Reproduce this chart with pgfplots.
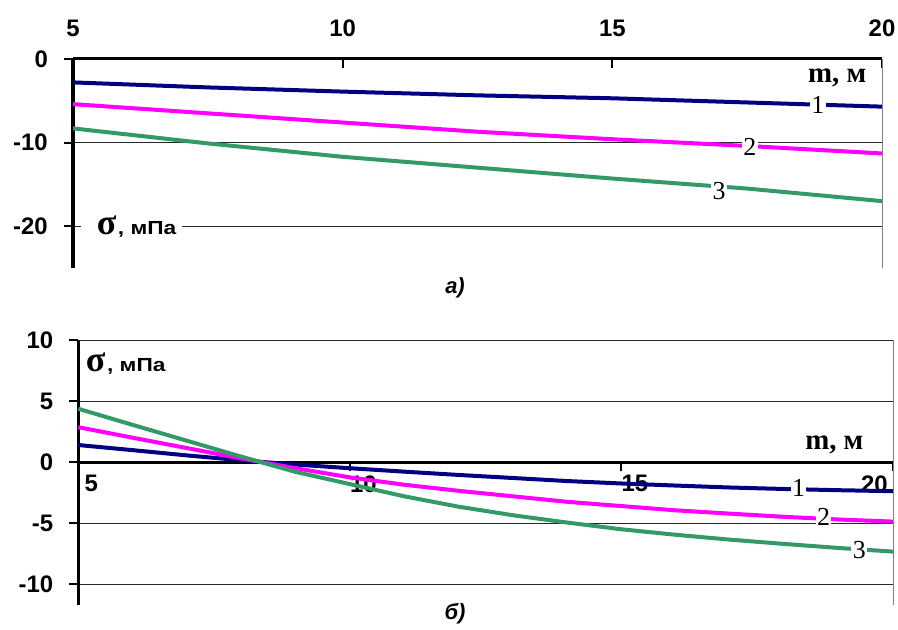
\documentclass[border=0pt]{standalone}
\usepackage{fontspec}
\setmainfont{Liberation Sans}
\newfontfamily\serif{Liberation Serif}
\usepackage{pgfplots}
\pgfplotsset{compat=1.18}
\definecolor{c1}{HTML}{000080}
\definecolor{c2}{HTML}{FF00FF}
\definecolor{c3}{HTML}{339966}
\pgfplotsset{
  common/.style={
    scale only axis, anchor=south west, clip=false,
    xmin=5, xmax=20, xtick={5,10,15,20},
    major tick length=9bp,
    tick style={black, line width=2bp},
    ymajorgrids, grid style={black!85, line width=0.9bp},
    ticklabel style={font=\fontsize{24}{26}\selectfont\bfseries, inner sep=0pt},
    every axis plot/.append style={line width=4bp, no markers},
  },
  nolinearrows/.style={
    axis line style={line width=3bp, black, -},
    every inner x axis line/.append style={-},
    every outer x axis line/.append style={-},
    every inner y axis line/.append style={-},
    every outer y axis line/.append style={-},
  },
}
\tikzset{
  lab/.style={font=\fontsize{26}{28}\selectfont\serif, fill=white, inner sep=1.5bp},
  unit/.style={font=\fontsize{29}{30}\selectfont\serif\bfseries, inner sep=0pt},
}
\newcommand{\sig}{{\fontsize{36}{36}\selectfont\serif\bfseries σ}\,{\fontsize{19}{20}\selectfont\bfseries\scalebox{1.2}[1]{, мПа}}}
\begin{document}
\begin{tikzpicture}
\useasboundingbox (0,0) rectangle (898bp,630bp);
% ---------- panel a ----------
\begin{axis}[common,
  at={(73bp,362bp)}, width=809bp, height=209bp,
  ymin=-25, ymax=0,
  axis x line=top, axis y line=left,
  xticklabels={5,10,15,20},
  ytick={-20,-10,0}, yticklabels={-20,-10,0},
  xtick align=inside, ytick align=outside,
  xticklabel style={anchor=south, yshift=22bp},
  yticklabel style={anchor=east, xshift=-16bp},
  nolinearrows,
]
\addplot[c1] coordinates {(5,-2.8) (7.5,-3.4) (10,-3.9) (12.5,-4.35) (15,-4.7) (17.5,-5.2) (20,-5.7)};
\addplot[c2] coordinates {(5,-5.4) (7.5,-6.5) (10,-7.6) (12.5,-8.7) (15,-9.6) (17.5,-10.4) (20,-11.3)};
\addplot[c3] coordinates {(5,-8.3) (7.5,-10.1) (10,-11.7) (12.5,-13.0) (15,-14.3) (17.5,-15.5) (20,-17.0)};
\draw[gray, line width=1bp] (rel axis cs:1,0) -- (rel axis cs:1,1);
\node[lab] at (axis cs:18.81,-5.52) {1};
\node[lab] at (axis cs:17.55,-10.5) {2};
\node[lab] at (axis cs:16.98,-15.84) {3};
\node[unit] at (axis cs:19.17,-2.3) {m, м};
\node[anchor=west, fill=white, inner sep=2bp] at (axis cs:5.14,-20.1)
  {\hspace*{14bp}\sig\hspace*{4bp}};
\end{axis}
\node[font=\fontsize{22}{24}\selectfont\bfseries\itshape] at (455bp,342bp) {а)};
% ---------- panel b ----------
\begin{axis}[common,
  at={(78.3bp,25bp)}, width=814.7bp, height=265bp,
  ymin=-11.7, ymax=10,
  axis x line=bottom, axis y line=left,
  axis x line shift=-142.88bp,
  ytick={-10,-5,0,5,10}, yticklabels={-10,-5,0,5,10},
  xticklabels={\hspace*{6bp}5,10,15,\llap{20\hspace*{6bp}}},
  xtick align=outside, ytick align=outside,
  xticklabel style={anchor=north west, yshift=-4bp},
  yticklabel style={anchor=east, xshift=-16bp},
  nolinearrows,
]
\addplot[c1] coordinates {(5,1.4) (6,0.98) (7,0.55) (8,0.15) (9,-0.2) (10,-0.5) (11,-0.78) (12,-1.05) (13,-1.3) (14,-1.55) (15,-1.75) (16,-1.92) (17,-2.08) (18,-2.2) (19,-2.3) (20,-2.38)};
\addplot[c2] coordinates {(5,2.86) (6,2.0) (7,1.15) (8,0.3) (9,-0.5) (10,-1.25) (11,-1.85) (12,-2.35) (13,-2.8) (14,-3.25) (15,-3.6) (16,-3.95) (17,-4.22) (18,-4.48) (19,-4.7) (20,-4.87)};
\addplot[c3] coordinates {(5,4.37) (6,3.05) (7,1.75) (8,0.45) (9,-0.8) (10,-1.8) (11,-2.8) (12,-3.65) (13,-4.35) (14,-4.95) (15,-5.5) (16,-5.95) (17,-6.35) (18,-6.7) (19,-7.03) (20,-7.33)};
\draw[gray, line width=1bp] (rel axis cs:1,0) -- (rel axis cs:1,1);
\node[lab] at (axis cs:18.26,-2.1) {1};
\node[lab] at (axis cs:18.72,-4.48) {2};
\node[lab] at (axis cs:19.38,-7.19) {3};
\node[unit] at (axis cs:18.92,1.42) {m, м};
\node[anchor=west, inner sep=2bp] at (axis cs:5.1,8.1) {\sig};
\end{axis}
\node[font=\fontsize{22}{24}\selectfont\bfseries\itshape] at (455bp,16bp) {б)};
\end{tikzpicture}
\end{document}
